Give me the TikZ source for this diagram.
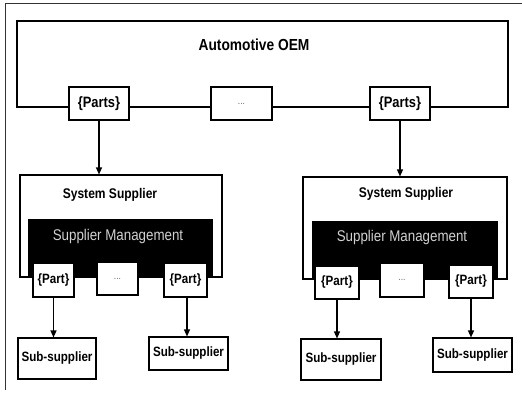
\documentclass[tikz,border=0pt]{standalone}
\usepackage{fontspec}
\setmainfont[FakeStretch=0.86]{Liberation Sans}
\usetikzlibrary{arrows.meta}
\begin{document}
\begin{tikzpicture}[x=1pt,y=-1pt,
  frame/.style={draw=black!80,line width=0.9pt},
  box/.style={draw=black,line width=1.1pt,fill=white,inner sep=0pt},
  dotbox/.style={box,font=\fontsize{10}{12}\selectfont\color{black!60}},
  partbox/.style={box,font=\bfseries\fontsize{13.5}{16}\selectfont},
  partsbox/.style={box,font=\bfseries\fontsize{15}{18}\selectfont},
  subbox/.style={box,font=\bfseries\fontsize{13.5}{16}\selectfont},
  bar/.style={fill=black,draw=black,inner sep=0pt},
  flow/.style={line width=1.3pt,-{Triangle[length=7pt,width=6pt]}}]
\useasboundingbox (0,0) rectangle (522,395);
% page frame (top and left rules)
\draw[frame] (522,3) -- (5,3) -- (5,390);

% OEM container
\draw[box] (17,21) rectangle (508,107);
\node[font=\bfseries\fontsize{16}{19}\selectfont] (oem) at (254,45) {Automotive OEM};
\node[partsbox,minimum width=60pt,minimum height=33pt] (pA) at (99,103.5) {\{Parts\}};
\node[dotbox,minimum width=61pt,minimum height=33pt] (pDots) at (241.5,103.5) {...};
\node[partsbox,minimum width=60pt,minimum height=33pt] (pB) at (400,103.5) {\{Parts\}};

% left system supplier
\node[box,minimum width=202pt,minimum height=102pt] (sysL) at (121,226) {};
\node[font=\bfseries\fontsize{14}{17}\selectfont] (sysLt) at (110,195) {System Supplier};
\node[bar,minimum width=184pt,minimum height=58pt] (barL) at (120,248) {};
\node[text=black!18,font=\fontsize{15.5}{18}\selectfont] (barLt) at (118,236) {Supplier Management};
\node[partbox,minimum width=41pt,minimum height=34pt] (qL1) at (53.5,280) {\{Part\}};
\node[dotbox,minimum width=41pt,minimum height=33pt] (qLd) at (117.5,278.5) {...};
\node[partbox,minimum width=43pt,minimum height=34pt] (qL2) at (185.5,280) {\{Part\}};
\node[subbox,minimum width=78pt,minimum height=41pt] (sL1) at (57,358.5) {Sub-supplier};
\node[subbox,minimum width=79pt,minimum height=33pt] (sL2) at (188.5,353.5) {Sub-supplier};

% right system supplier
\node[box,minimum width=204pt,minimum height=102pt] (sysR) at (405,228) {};
\node[font=\bfseries\fontsize{14}{17}\selectfont] (sysRt) at (406,194) {System Supplier};
\node[bar,minimum width=185pt,minimum height=58pt] (barR) at (404.5,250) {};
\node[text=black!18,font=\fontsize{15.5}{18}\selectfont] (barRt) at (402,237) {Supplier Management};
\node[partbox,minimum width=44pt,minimum height=33pt] (qR1) at (337,282.5) {\{Part\}};
\node[dotbox,minimum width=44pt,minimum height=34pt] (qRd) at (402,280) {...};
\node[partbox,minimum width=44pt,minimum height=33pt] (qR2) at (471,281.5) {\{Part\}};
\node[subbox,minimum width=80pt,minimum height=41pt] (sR1) at (341,359.5) {Sub-supplier};
\node[subbox,minimum width=79pt,minimum height=34pt] (sR2) at (472.5,355) {Sub-supplier};

% connectors
\draw[flow] (pA.south) -- (pA.south |- sysL.north);
\draw[flow] (pB.south) -- (pB.south |- sysR.north);
\draw[flow] (qL1.south) -- (qL1.south |- sL1.north);
\draw[flow] ([xshift=1.5pt]qL2.south) -- ([xshift=1.5pt]qL2.south |- sL2.north);
\draw[flow] (qR1.south) -- (qR1.south |- sR1.north);
\draw[flow] (qR2.south) -- (qR2.south |- sR2.north);
\end{tikzpicture}
\end{document}
